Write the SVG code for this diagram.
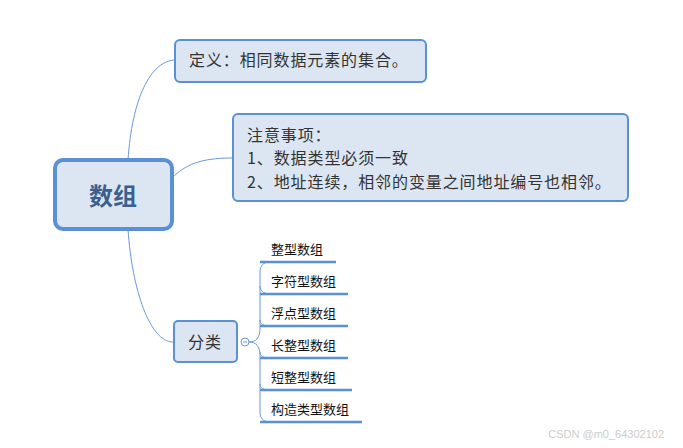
<svg xmlns="http://www.w3.org/2000/svg" width="683" height="448" viewBox="0 0 683 448">
<style>
.box{fill:#dce6f2;stroke:#5b8fd6;stroke-width:2}
.t{font-family:"Microsoft YaHei","Noto Sans CJK SC",sans-serif;fill:#333;letter-spacing:0.9px}
.lt{font-family:"Microsoft YaHei","Noto Sans CJK SC",sans-serif;font-size:13px;fill:#111}
.con path{fill:none;stroke:#6a98d8;stroke-width:1}
.ul{stroke:#5b8fd6;stroke-width:2.5}
</style>
<rect width="683" height="448" fill="#fff"/>
<g class="con" id="connectors">
<path d="M128,160 C132,100 150,60 176,60"/>
<path d="M172,178 C185,165 200,158 232,158"/>
<path d="M128,229 C132,290 150,342 173,342"/>
<path d="M249,342 C256,342 260,338 260,328 L260,272 C260,266 263,262 270,262"/>
<path d="M249,342 C256,342 260,346 260,356 L260,412 C260,418 263,422 270,422"/>
<path d="M260,352 C260,356 263,358 270,358"/>
<path d="M260,384 C260,388 263,390 270,390"/>
<path d="M260,286 C260,290 263,294 270,294"/>
<path d="M260,320 C260,324 263,326 270,326"/>
</g>
<g id="root">
<rect x="55" y="160" width="117" height="69" rx="8" fill="#dce6f2" stroke="#5b8fd6" stroke-width="4"/>
<text x="113" y="205" text-anchor="middle" font-family="Microsoft YaHei,Noto Sans CJK SC,sans-serif" font-size="24" font-weight="bold" fill="#3b5f8e">数组</text>
</g>
<g id="def">
<rect class="box" x="175" y="40" width="251" height="42" rx="5"/>
<text class="t" x="189" y="66" font-size="16">定义：相同数据元素的集合。</text>
</g>
<g id="note">
<rect class="box" x="233" y="114" width="395" height="87" rx="5"/>
<text class="t" x="247" y="141" font-size="16">注意事项：</text>
<text class="t" x="247" y="164" font-size="16">1、数据类型必须一致</text>
<text class="t" x="247" y="188" font-size="16">2、地址连续，相邻的变量之间地址编号也相邻。</text>
</g>
<g id="cls">
<rect class="box" x="174" y="321" width="63" height="41" rx="4"/>
<text class="t" x="205" y="348" font-size="16" text-anchor="middle">分类</text>
<circle cx="245" cy="342" r="4" fill="#fff" stroke="#6a98d8" stroke-width="1"/>
<line x1="243" y1="342" x2="247" y2="342" stroke="#6a98d8" stroke-width="1"/>
</g>
<g id="leaf1"><text class="lt" x="271" y="254">整型数组</text><line class="ul" x1="260" y1="262" x2="336" y2="262"/></g>
<g id="leaf2"><text class="lt" x="271" y="286">字符型数组</text><line class="ul" x1="260" y1="294" x2="348" y2="294"/></g>
<g id="leaf3"><text class="lt" x="271" y="318">浮点型数组</text><line class="ul" x1="260" y1="326" x2="348" y2="326"/></g>
<g id="leaf4"><text class="lt" x="271" y="350">长整型数组</text><line class="ul" x1="260" y1="358" x2="348" y2="358"/></g>
<g id="leaf5"><text class="lt" x="271" y="382">短整型数组</text><line class="ul" x1="260" y1="390" x2="352" y2="390"/></g>
<g id="leaf6"><text class="lt" x="271" y="414">构造类型数组</text><line class="ul" x1="260" y1="422" x2="362" y2="422"/></g>
<text x="664" y="438" text-anchor="end" font-family="Liberation Sans,sans-serif" font-size="11" fill="#ccc">CSDN @m0_64302102</text>
</svg>
